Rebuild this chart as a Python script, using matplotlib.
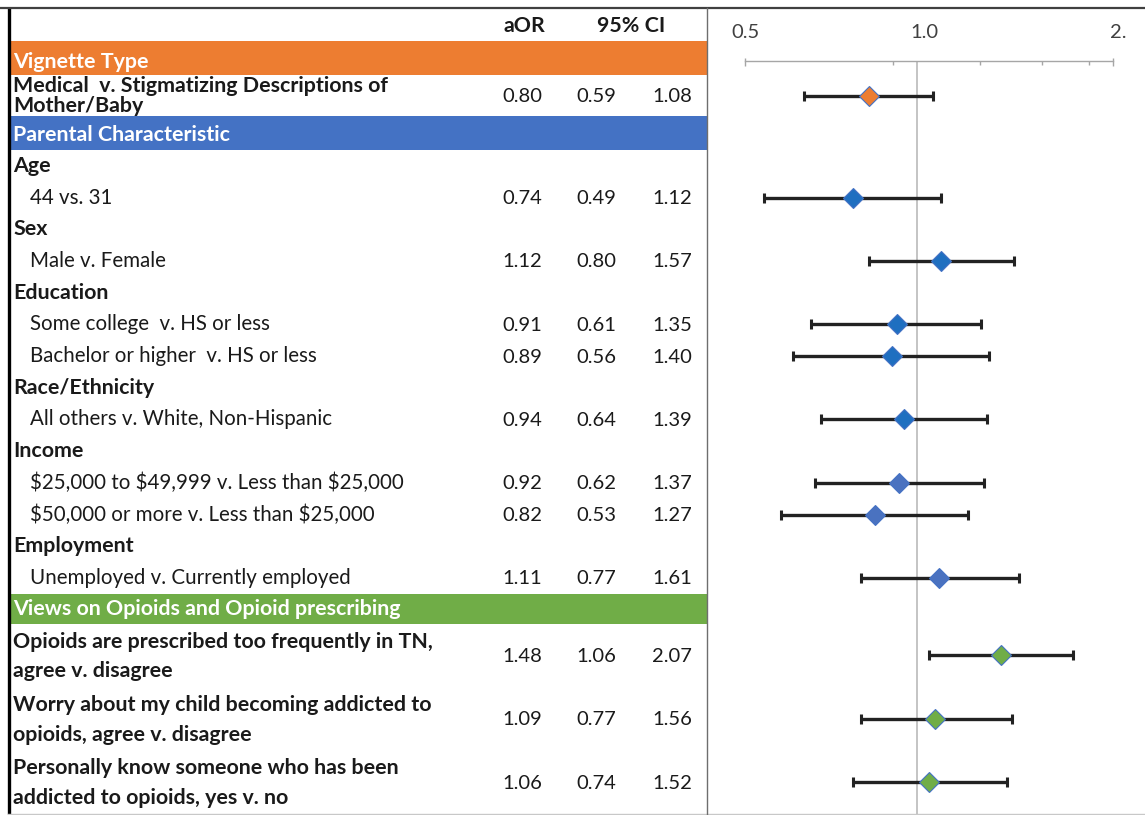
import numpy as np
import matplotlib.pyplot as plt

plt.rcParams['font.family'] = ['Lato', 'DejaVu Sans']

# ---- data ----
section_names = ['Vignette Type', 'Parental Characteristic',
                 'Views on Opioids and Opioid prescribing']
section_colors = ['#ED7D31', '#4472C4', '#70AD47']

item_section = [0, 1, 1, 1, 1, 1, 1, 1, 1, 2, 2, 2]
item_group = ['', 'Age', 'Sex', 'Education', 'Education', 'Race/Ethnicity',
              'Income', 'Income', 'Employment', '', '', '']
item_labels = [
    'Medical  v. Stigmatizing Descriptions of\nMother/Baby',
    '44 vs. 31',
    'Male v. Female',
    'Some college  v. HS or less',
    'Bachelor or higher  v. HS or less',
    'All others v. White, Non-Hispanic',
    '$25,000 to $49,999 v. Less than $25,000',
    '$50,000 or more v. Less than $25,000',
    'Unemployed v. Currently employed',
    'Opioids are prescribed too frequently in TN,\nagree v. disagree',
    'Worry about my child becoming addicted to\nopioids, agree v. disagree',
    'Personally know someone who has been\naddicted to opioids, yes v. no',
]
aor = [0.80, 0.74, 1.12, 0.91, 0.89, 0.94, 0.92, 0.82, 1.11, 1.48, 1.09, 1.06]
ci_low = [0.59, 0.49, 0.80, 0.61, 0.56, 0.64, 0.62, 0.53, 0.77, 1.06, 0.77, 0.74]
ci_high = [1.08, 1.12, 1.57, 1.35, 1.40, 1.39, 1.37, 1.27, 1.61, 2.07, 1.56, 1.52]
marker_colors = ['#ED7D31'] + ['#1F6FC0'] * 5 + ['#4A72C0'] * 3 + ['#70AD47'] * 3

axis_labels = ['0.5', '1.0', '2.']

# ---- layout (pixels) ----
W, H = 1145, 815
TOP = 8
HEADER_H = 33
BAND_H = [34, 34, 30]
BAND_TXT_DY = [4, 2, 0]
ROW_H = 31.7
TWO_LINE_H = [41, 63.3, 63.3]
LINE_SP = [1.0, 1.6, 1.6]
COL_X = [522, 596, 672]
SPLIT_X = 707
FS = 14.8      # regular labels
FS_B = 15.4    # bold labels
FS_N = 14.5    # numbers
TXT = '#1A1A1A'

fig = plt.figure(figsize=(W / 100, H / 100), dpi=100)
ax = fig.add_axes([0, 0, 1, 1])
ax.set_xlim(0, W)
ax.set_ylim(H, 0)
ax.axis('off')

# header
y = TOP
yc = y + HEADER_H / 2 + 1
ax.text(524, yc, 'aOR', ha='center', va='center', fontsize=FS_B,
        fontweight='bold', color=TXT)
ax.text(631, yc, '95% CI', ha='center', va='center',
        fontsize=FS_B, fontweight='bold', color=TXT)
y += HEADER_H

item_y = []
cur_sec, cur_grp = None, None
for i, lab in enumerate(item_labels):
    sec, grp = item_section[i], item_group[i]
    if sec != cur_sec:
        bh = BAND_H[sec]
        ax.fill_between([10, SPLIT_X], y, y + bh, color=section_colors[sec], lw=0)
        ax.text(13, y + bh / 2 + BAND_TXT_DY[sec], section_names[sec], ha='left',
                va='center', fontsize=FS_B, fontweight='bold', color='white')
        y += bh
        cur_sec = sec
    if grp and grp != cur_grp:
        ax.text(13, y + ROW_H / 2, grp, ha='left', va='center', fontsize=FS_B,
                fontweight='bold', color=TXT)
        y += ROW_H
    cur_grp = grp
    two_line = '\n' in lab
    h = TWO_LINE_H[sec] if two_line else ROW_H
    yc = y + h / 2
    ax.text(30 if grp else 13, yc + (1 if two_line else 0), lab, ha='left',
            va='center', fontsize=FS if grp else FS_B,
            fontweight='normal' if grp else 'bold', color=TXT,
            linespacing=LINE_SP[sec], parse_math=False)
    for cx, v in zip(COL_X, (aor[i], ci_low[i], ci_high[i])):
        ax.text(cx, yc + 1, f'{v:.2f}', ha='center', va='center', fontsize=FS_N,
                color=TXT)
    item_y.append(yc)
    y += h
BOTTOM = y

# frame lines
ax.plot([8.5, 8.5], [TOP, BOTTOM], color='black', lw=2.4, solid_capstyle='butt')
ax.plot([0, W], [TOP, TOP], color='#404040', lw=1.6)
ax.plot([8, W], [BOTTOM, BOTTOM], color='#C8C8C8', lw=1.0)
ax.plot([SPLIT_X, SPLIT_X], [TOP, BOTTOM], color='#6E6E6E', lw=1.0)

# ---- forest plot (log scale) ----
px_per_ln = 214.0
one_px = 917
x_lo = np.exp((SPLIT_X - one_px) / px_per_ln)
x_hi = np.exp((W - one_px) / px_per_ln)
ap = fig.add_axes([SPLIT_X / W, 0, 1 - SPLIT_X / W, 1])
ap.set_xscale('log')
ap.set_xlim(x_lo, x_hi)
ap.set_ylim(H, 0)
ap.axis('off')
ap.patch.set_alpha(0)

axis_y = 61
tick_base = np.exp((745 - one_px) / px_per_ln)
ticks = [tick_base * k for k in range(1, 6)]
axis_end = np.exp((1113 - one_px) / px_per_ln)
ap.plot([ticks[0], axis_end], [axis_y, axis_y], color='#A6A6A6', lw=1.0)
ap.vlines(ticks[1:], axis_y, axis_y + 4, color='#A6A6A6', lw=1.0)
ap.vlines([ticks[0], axis_end], axis_y - 3, axis_y + 5, color='#A6A6A6', lw=1.0)
label_x = [ticks[0], np.exp((924 - one_px) / px_per_ln),
           np.exp((1118 - one_px) / px_per_ln)]
for lx, lt in zip(label_x, axis_labels):
    ap.text(lx, 33, lt, ha='center', va='center', fontsize=FS_N,
            color='#404040')

ap.vlines(1.0, axis_y, BOTTOM, color='#BFBFBF', lw=1.3, zorder=1)

aor_a = np.array(aor)
err = [aor_a - np.array(ci_low), np.array(ci_high) - aor_a]
ap.errorbar(aor, item_y, xerr=err, fmt='none', ecolor='#222222', elinewidth=2.4,
            capsize=3.5, capthick=2.2, zorder=2)
for xv, yv, c in zip(aor, item_y, marker_colors):
    ap.plot(xv, yv, marker='D', ms=10.5, color=c, mec='#4472C4', mew=0.8,
            zorder=3)

fig.savefig('out.png', dpi=100)
